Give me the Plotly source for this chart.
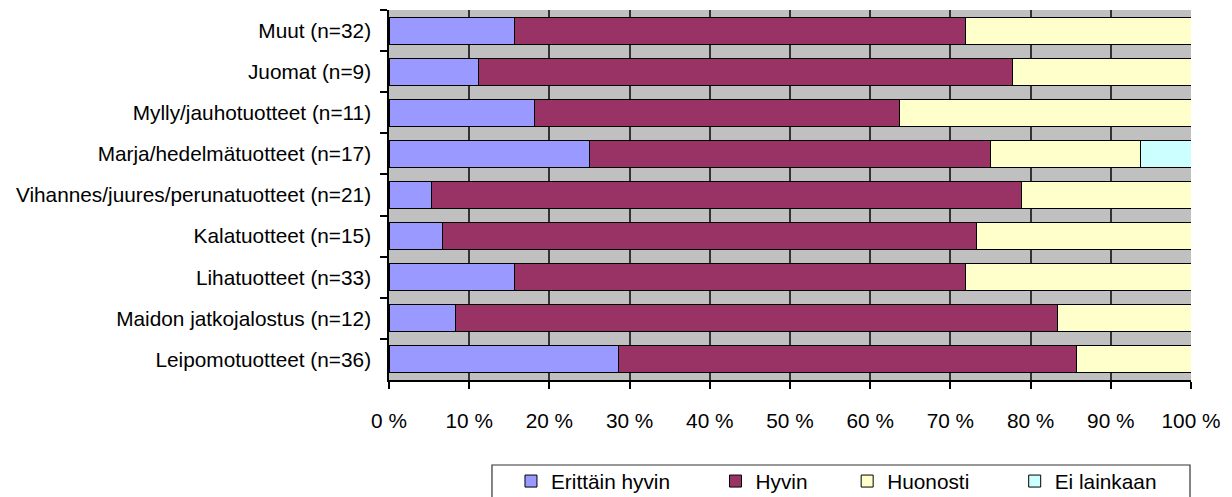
import plotly.graph_objects as go

# Product groups, listed top to bottom as they appear on the chart
categories = [
    "Muut (n=32)",
    "Juomat (n=9)",
    "Mylly/jauhotuotteet (n=11)",
    "Marja/hedelmätuotteet (n=17)",
    "Vihannes/juures/perunatuotteet (n=21)",
    "Kalatuotteet (n=15)",
    "Lihatuotteet (n=33)",
    "Maidon jatkojalostus (n=12)",
    "Leipomotuotteet (n=36)",
]

# Share of answers per group (%)
erittain_hyvin = [15.6, 11.1, 18.2, 25.0, 5.3, 6.7, 15.6, 8.3, 28.6]
hyvin = [56.3, 66.7, 45.4, 50.0, 73.6, 66.6, 56.3, 75.0, 57.1]
huonosti = [28.1, 22.2, 36.4, 18.75, 21.1, 26.7, 28.1, 16.7, 14.3]
ei_lainkaan = [0, 0, 0, 6.25, 0, 0, 0, 0, 0]

series_names = ["Erittäin hyvin", "Hyvin", "Huonosti", "Ei lainkaan"]
series_values = [erittain_hyvin, hyvin, huonosti, ei_lainkaan]
series_colors = ["#9999FF", "#993366", "#FFFFCC", "#CCFFFF"]

x_tick_values = [0, 10, 20, 30, 40, 50, 60, 70, 80, 90, 100]
x_tick_labels = ["0 %", "10 %", "20 %", "30 %", "40 %", "50 %",
                 "60 %", "70 %", "80 %", "90 %", "100 %"]

FONT = "Liberation Sans, Arial, sans-serif"
FONT_SIZE = 20.8
NBSP = "\u00a0"
# extra spacing after each legend label so the entries spread out
legend_pad = [7, 6, 7, 0]

fig = go.Figure()
for name, vals, color, pad in zip(series_names, series_values, series_colors, legend_pad):
    fig.add_trace(go.Bar(
        y=categories,
        x=vals,
        orientation="h",
        name=name + NBSP * pad,
        marker=dict(color=color, line=dict(color="#000000", width=1)),
    ))

# frame around the legend
fig.add_shape(
    type="rect",
    xref="paper", yref="paper",
    x0=0.1284, x1=0.99875,
    y0=-0.2297, y1=-0.345,
    line=dict(color="#333333", width=1.2),
    fillcolor="rgba(0,0,0,0)",
    layer="above",
)

fig.update_layout(
    width=1232,
    height=497,
    barmode="stack",
    bargap=0.345,
    paper_bgcolor="#FFFFFF",
    plot_bgcolor="#C0C0C0",
    margin=dict(l=389, r=41, t=10, b=117, autoexpand=False),
    font=dict(family=FONT, size=FONT_SIZE, color="#000000"),
    showlegend=True,
    legend=dict(
        orientation="h",
        x=0.1521,
        xanchor="left",
        y=-0.219,
        yanchor="top",
        borderwidth=0,
        bgcolor="rgba(0,0,0,0)",
        font=dict(family=FONT, size=FONT_SIZE, color="#000000"),
        traceorder="normal",
    ),
    xaxis=dict(
        range=[0, 100],
        tickvals=x_tick_values,
        ticktext=x_tick_labels,
        ticks="outside",
        ticklen=7,
        tickwidth=1.5,
        tickcolor="#000000",
        ticklabelstandoff=14,
        showgrid=True,
        gridcolor="#333333",
        gridwidth=2,
        showline=True,
        linecolor="#000000",
        linewidth=1.5,
        zeroline=False,
        fixedrange=True,
    ),
    yaxis=dict(
        autorange="reversed",
        type="category",
        tickson="boundaries",
        ticks="outside",
        ticklen=7,
        tickwidth=1.5,
        tickcolor="#000000",
        ticklabelstandoff=12,
        showgrid=False,
        showline=True,
        linecolor="#000000",
        linewidth=1.5,
        fixedrange=True,
    ),
)

fig.write_html("out.html")
